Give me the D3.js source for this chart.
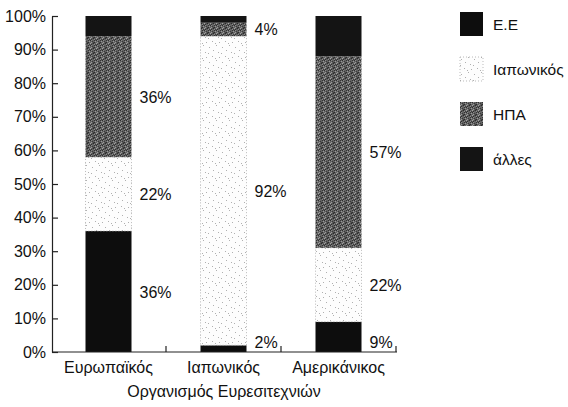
<!DOCTYPE html>
<html>
<head>
<meta charset="utf-8">
<script src="https://cdn.jsdelivr.net/npm/d3@7"></script>
<style>
  body { margin: 0; background: #fff; }
  text { font-family: "Liberation Sans", Arial, sans-serif; fill: #111; }
</style>
</head>
<body>
<svg id="chart" width="568" height="407"></svg>
<script>
// Patent office of origin (categories) and share of patents by applicant region (%)
const categories = ["Ευρωπαϊκός", "Ιαπωνικός", "Αμερικάνικος"];
const seriesNames = ["Ε.Ε", "Ιαπωνικός", "ΗΠΑ", "άλλες"];
const euValues    = [36, 2, 9];
const japanValues = [22, 92, 22];
const usaValues   = [36, 4, 57];
const otherValues = [6, 2, 12];
const labelledSeries = ["Ε.Ε", "Ιαπωνικός", "ΗΠΑ"];
const yTicks = [0, 10, 20, 30, 40, 50, 60, 70, 80, 90, 100];
const xTitle = "Οργανισμός Ευρεσιτεχνιών";

const rows = categories.map((c, i) => ({
  cat: c,
  "Ε.Ε": euValues[i],
  "Ιαπωνικός": japanValues[i],
  "ΗΠΑ": usaValues[i],
  "άλλες": otherValues[i]
}));

const svg = d3.select("#chart");
const plotLeft = 52, plotRight = 396, plotTop = 16, plotBottom = 352;
const fontStack = '"Liberation Sans", Arial, sans-serif';

const x = d3.scaleBand().domain(categories).range([plotLeft - 1, plotRight]).padding(0);
const y = d3.scaleLinear().domain([0, 100]).range([plotBottom, plotTop]);
const barW = x.bandwidth() * 0.4;

// Halftone-like fills
const defs = svg.append("defs");
const light = defs.append("pattern").attr("id", "pLight")
  .attr("patternUnits", "userSpaceOnUse").attr("width", 13).attr("height", 15);
light.append("rect").attr("width", 13).attr("height", 15).attr("fill", "#fdfdfd");
[[1,2],[8,0],[10,7],[4,11],[0,8],[7,13],[5,5],[11,12]].forEach(([a, b]) =>
  light.append("rect").attr("x", a).attr("y", b).attr("width", 1).attr("height", 1).attr("fill", "#b0b0b0"));

const dark = defs.append("pattern").attr("id", "pDark")
  .attr("patternUnits", "userSpaceOnUse").attr("width", 6).attr("height", 5);
dark.append("rect").attr("width", 6).attr("height", 5).attr("fill", "#626262");
[[0,0,"#2e2e2e"],[2,1,"#3a3a3a"],[1,2,"#9a9a9a"],[3,3,"#2a2a2a"],[1,0,"#8a8a8a"],[3,2,"#444"],
 [0,3,"#a5a5a5"],[2,3,"#505050"],[4,0,"#333"],[5,1,"#999"],[4,2,"#2c2c2c"],[5,4,"#3c3c3c"],[1,4,"#2f2f2f"],[4,4,"#8c8c8c"]]
  .forEach(([a, b, c]) => dark.append("rect").attr("x", a).attr("y", b).attr("width", 1).attr("height", 1).attr("fill", c));

const fills = { "Ε.Ε": "#0d0d0d", "Ιαπωνικός": "url(#pLight)", "ΗΠΑ": "url(#pDark)", "άλλες": "#141414" };
const strokes = { "Ε.Ε": "#0d0d0d", "Ιαπωνικός": "#a8a8a8", "ΗΠΑ": "none", "άλλες": "#141414" };

const stacked = d3.stack().keys(seriesNames)(rows);

// Bars
const layers = svg.append("g").selectAll("g").data(stacked).join("g");
layers.selectAll("rect").data(d => d.map(p => ({ key: d.key, p }))).join("rect")
  .attr("x", d => x(d.p.data.cat) + (x.bandwidth() - barW) / 2)
  .attr("width", barW)
  .attr("y", d => y(d.p[1]))
  .attr("height", d => y(d.p[0]) - y(d.p[1]))
  .attr("fill", d => fills[d.key])
  .attr("stroke", d => strokes[d.key])
  .attr("stroke-width", d => d.key === "Ιαπωνικός" ? 0.8 : 0)
  .attr("stroke-dasharray", d => d.key === "Ιαπωνικός" ? "1,2" : null);

// Value labels beside the bars
const labels = [];
stacked.filter(s => labelledSeries.includes(s.key)).forEach(s => {
  s.forEach(p => {
    const v = p[1] - p[0];
    const atBase = p[0] === 0 && v < 10;
    labels.push({
      text: v + "%",
      x: x(p.data.cat) + (x.bandwidth() + barW) / 2 + 8,
      y: atBase ? y(0) - 4 : y((p[0] + p[1]) / 2) + 6
    });
  });
});
svg.append("g").selectAll("text").data(labels).join("text")
  .attr("x", d => d.x).attr("y", d => d.y)
  .attr("font-size", 16)
  .text(d => d.text);

// Y axis with inward ticks
const yAxis = svg.append("g").attr("transform", `translate(${plotLeft},0)`)
  .call(d3.axisLeft(y).tickValues(yTicks).tickSize(-6).tickSizeOuter(0).tickPadding(6).tickFormat(d => d + "%"));
yAxis.selectAll("path, line").attr("stroke", "#222").attr("stroke-width", 1.2);
yAxis.selectAll("text").attr("font-size", 16).attr("fill", "#111").style("font-family", fontStack);

// X axis: baseline, separator ticks and category names
const xAxis = svg.append("g").attr("transform", `translate(0,${plotBottom})`)
  .call(d3.axisBottom(x).tickSize(0).tickPadding(10));
xAxis.select(".domain").remove();
xAxis.selectAll("text").attr("font-size", 16).attr("fill", "#111").style("font-family", fontStack);
svg.append("line").attr("x1", plotLeft).attr("x2", plotRight + 1).attr("y1", plotBottom).attr("y2", plotBottom)
  .attr("stroke", "#222").attr("stroke-width", 1.2);
svg.append("g").selectAll("line").data(categories).join("line")
  .attr("x1", d => x(d) + x.bandwidth()).attr("x2", d => x(d) + x.bandwidth())
  .attr("y1", plotBottom).attr("y2", plotBottom - 6)
  .attr("stroke", "#222").attr("stroke-width", 1.2);

svg.append("text").attr("x", (plotLeft + plotRight) / 2).attr("y", 397)
  .attr("text-anchor", "middle").attr("font-size", 16)
  .text(xTitle);

// Legend
const legend = svg.append("g").selectAll("g").data(seriesNames).join("g")
  .attr("transform", (d, i) => `translate(460,${12 + i * 45})`);
legend.append("rect").attr("width", 23).attr("height", 24)
  .attr("fill", d => fills[d])
  .attr("stroke", d => d === "Ιαπωνικός" ? "#aaa" : "none")
  .attr("stroke-dasharray", "1,2").attr("stroke-width", 0.8);
legend.append("text").attr("x", 33).attr("y", 18)
  .attr("font-size", 15.5)
  .text(d => d);
</script>
</body>
</html>
